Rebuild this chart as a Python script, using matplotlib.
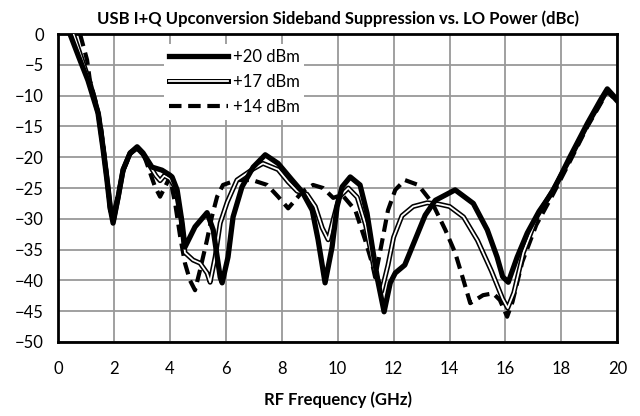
import matplotlib.pyplot as plt
from matplotlib.lines import Line2D

# +20 dBm LO
f20 = [0.43, 0.75, 1.07, 1.43, 1.6, 1.75, 1.86, 1.97, 2.15, 2.33, 2.58, 2.83, 3.04, 3.36, 3.72, 4.0,
       4.08, 4.26, 4.44, 4.54, 4.9, 5.33, 5.55, 5.8, 5.87, 6.08, 6.26, 6.58, 6.98, 7.41, 7.87, 8.37,
       8.73, 9.09, 9.3, 9.55, 9.8, 9.98, 10.16, 10.45, 10.8, 11.05, 11.27, 11.45, 11.66, 11.88, 12.06,
       12.4, 12.77, 13.13, 13.49, 14.2, 14.85, 15.35, 15.7, 15.9, 16.1, 16.42, 16.78, 17.2, 17.7,
       18.3, 18.93, 19.4, 19.64, 20.0]
p20 = [0, -3.8, -7.5, -12.8, -18.3, -23.7, -28.1, -30.7, -26.5, -22, -19.3, -18.3, -19.3, -21.6, -22.1, -22.9,
       -23.2, -25.3, -30.7, -34.6, -31.3, -29.0, -31.8, -39.5, -40.4, -36.2, -29.7, -24.8, -21.6, -19.6, -21, -23.7,
       -25.6, -28.6, -33.4, -40.4, -34.6, -28, -24.8, -23.2, -24.5, -29.1, -35.5, -40.4, -45.1, -40.4, -38.8,
       -37.5, -33.4, -29.4, -27, -25.3, -27.5, -31.8, -36.2, -39.4, -40.3, -36.2, -32.3, -28.8, -25.5,
       -20, -14.5, -10.7, -8.9, -10.7]

# +17 dBm LO
f17 = [0.55, 0.85, 1.15, 1.45, 1.62, 1.77, 1.88, 1.98, 2.15, 2.33, 2.58, 2.83, 3.04, 3.3, 3.5, 3.65, 3.8,
       4.0, 4.2, 4.4, 4.54, 4.83, 5.08, 5.33, 5.44, 5.62, 5.8, 6.05, 6.4, 6.98, 7.33, 7.87, 8.23, 8.55,
       8.9, 9.2, 9.45, 9.66, 9.85, 10.05, 10.38, 10.7, 11.0, 11.3, 11.57, 11.8, 12.0, 12.3, 12.7, 13.2,
       13.6, 14.0, 14.5, 15.0, 15.5, 15.9, 16.08, 16.3, 16.64, 17.14, 17.7, 18.3, 18.93, 19.4, 19.64, 20.0]
p17 = [0, -4, -8, -13, -18.5, -24, -28.3, -30.3, -26.5, -22, -19.3, -18.5, -19.5, -21.5, -23, -23.8, -23,
       -23.5, -25, -30, -35.5, -36.7, -37.2, -38.8, -40.3, -36.2, -30.7, -27.3, -23.7, -21.9, -21, -22, -24, -25.5,
       -26, -28, -31.5, -33.4, -30, -26.5, -25, -26.5, -31, -38, -41.8, -37.5, -33, -29.5, -28, -27.4,
       -27.6, -28, -29.7, -33.5, -38.5, -43, -44.5, -42, -35.5, -29.5, -25.3, -20.3, -14.7, -11, -9.1, -10.9]

# +14 dBm LO
f14 = [0.79, 1.04, 1.14, 1.35, 1.55, 1.72, 1.86, 1.96, 2.1, 2.33, 2.58, 2.83, 3.1, 3.3, 3.47, 3.65, 3.83,
       4.0, 4.19, 4.37, 4.54, 4.72, 4.9, 5.08, 5.33, 5.5, 5.69, 5.9, 6.4, 6.94, 7.48, 7.87, 8.23, 8.55,
       8.73, 9.12, 9.48, 9.84, 10.16, 10.63, 10.98, 11.23, 11.34, 11.6, 11.8, 12.06, 12.4, 12.88, 13.38,
       13.85, 14.2, 14.5, 14.74, 15.2, 15.56, 15.8, 16.06, 16.25, 16.6, 17.1, 17.7, 18.3, 18.93, 19.4,
       19.64, 20.0]
p14 = [0, -4.2, -7.5, -11, -15.5, -22, -28.6, -29.5, -27, -22.3, -19.5, -18.5, -20, -22.6, -24.8, -26.4, -24.8,
       -23.2, -27.5, -32.9, -37.2, -40, -41.6, -38.3, -33.4, -29.7, -26.4, -24.5, -23.7, -23.7, -24.5, -26.4, -28.3, -26.6,
       -25.6, -24.5, -25, -26.6, -26.1, -28.6, -33.4, -37.2, -39.5, -33.4, -28.6, -25.3, -23.7, -24.5, -27.4,
       -31.8, -35.5, -40, -43.7, -42.4, -42.1, -43.2, -45.9, -43.5, -37, -31, -26, -20.7, -15, -11.3,
       -9.3, -11]

labels = ['+20 dBm', '+17 dBm', '+14 dBm']
xticks = list(range(0, 21, 2))
yticks = list(range(-50, 1, 5))

plt.rcParams['font.family'] = ['Lato', 'DejaVu Sans']

fig = plt.figure(figsize=(6.4, 4.16), dpi=100)
ax = fig.add_axes([0.0906, 0.178, 0.874, 0.74])

ax.plot(f20, p20, color='black', lw=3.8, solid_joinstyle='round', solid_capstyle='round', zorder=5)
ax.plot(f17, p17, color='black', lw=3.6, solid_joinstyle='round', zorder=4)
ax.plot(f17, p17, color='white', lw=1.3, solid_joinstyle='round', zorder=4)
ax.plot(f14, p14, color='black', lw=3.0, linestyle=(0, (3, 1.6)), zorder=3)

ax.set_xlim(0, 20)
ax.set_ylim(-50, 0)
ax.set_xticks(xticks)
ax.set_yticks(yticks)
ax.grid(True, color='#999999', lw=1.3)
ax.set_axisbelow(True)
ax.tick_params(length=0, labelsize=12)
ax.tick_params(axis='x', pad=14)
ax.tick_params(axis='y', pad=10)
for s in ax.spines.values():
    s.set_linewidth(2)

ax.set_title('USB I+Q Upconversion Sideband Suppression vs. LO Power (dBc)',
             fontsize=12, fontweight='bold', pad=7)
ax.set_xlabel('RF Frequency (GHz)', fontsize=12, fontweight='bold', labelpad=10)

h20 = Line2D([], [], color='black', lw=3.8)
h17 = (Line2D([], [], color='black', lw=3.6), Line2D([], [], color='white', lw=1.3))
h14 = Line2D([], [], color='black', lw=3.0, linestyle=(0, (3, 1.6)))
leg = ax.legend([h20, h17, h14], labels, loc='upper left', bbox_to_anchor=(0.175, 0.995),
                frameon=True, fontsize=12, handlelength=3.5, handletextpad=0.3, labelspacing=0.55,
                borderpad=0.3)
leg.get_frame().set_facecolor('white')
leg.get_frame().set_edgecolor('none')
leg.get_frame().set_alpha(1)

fig.savefig('out.png', dpi=100)
